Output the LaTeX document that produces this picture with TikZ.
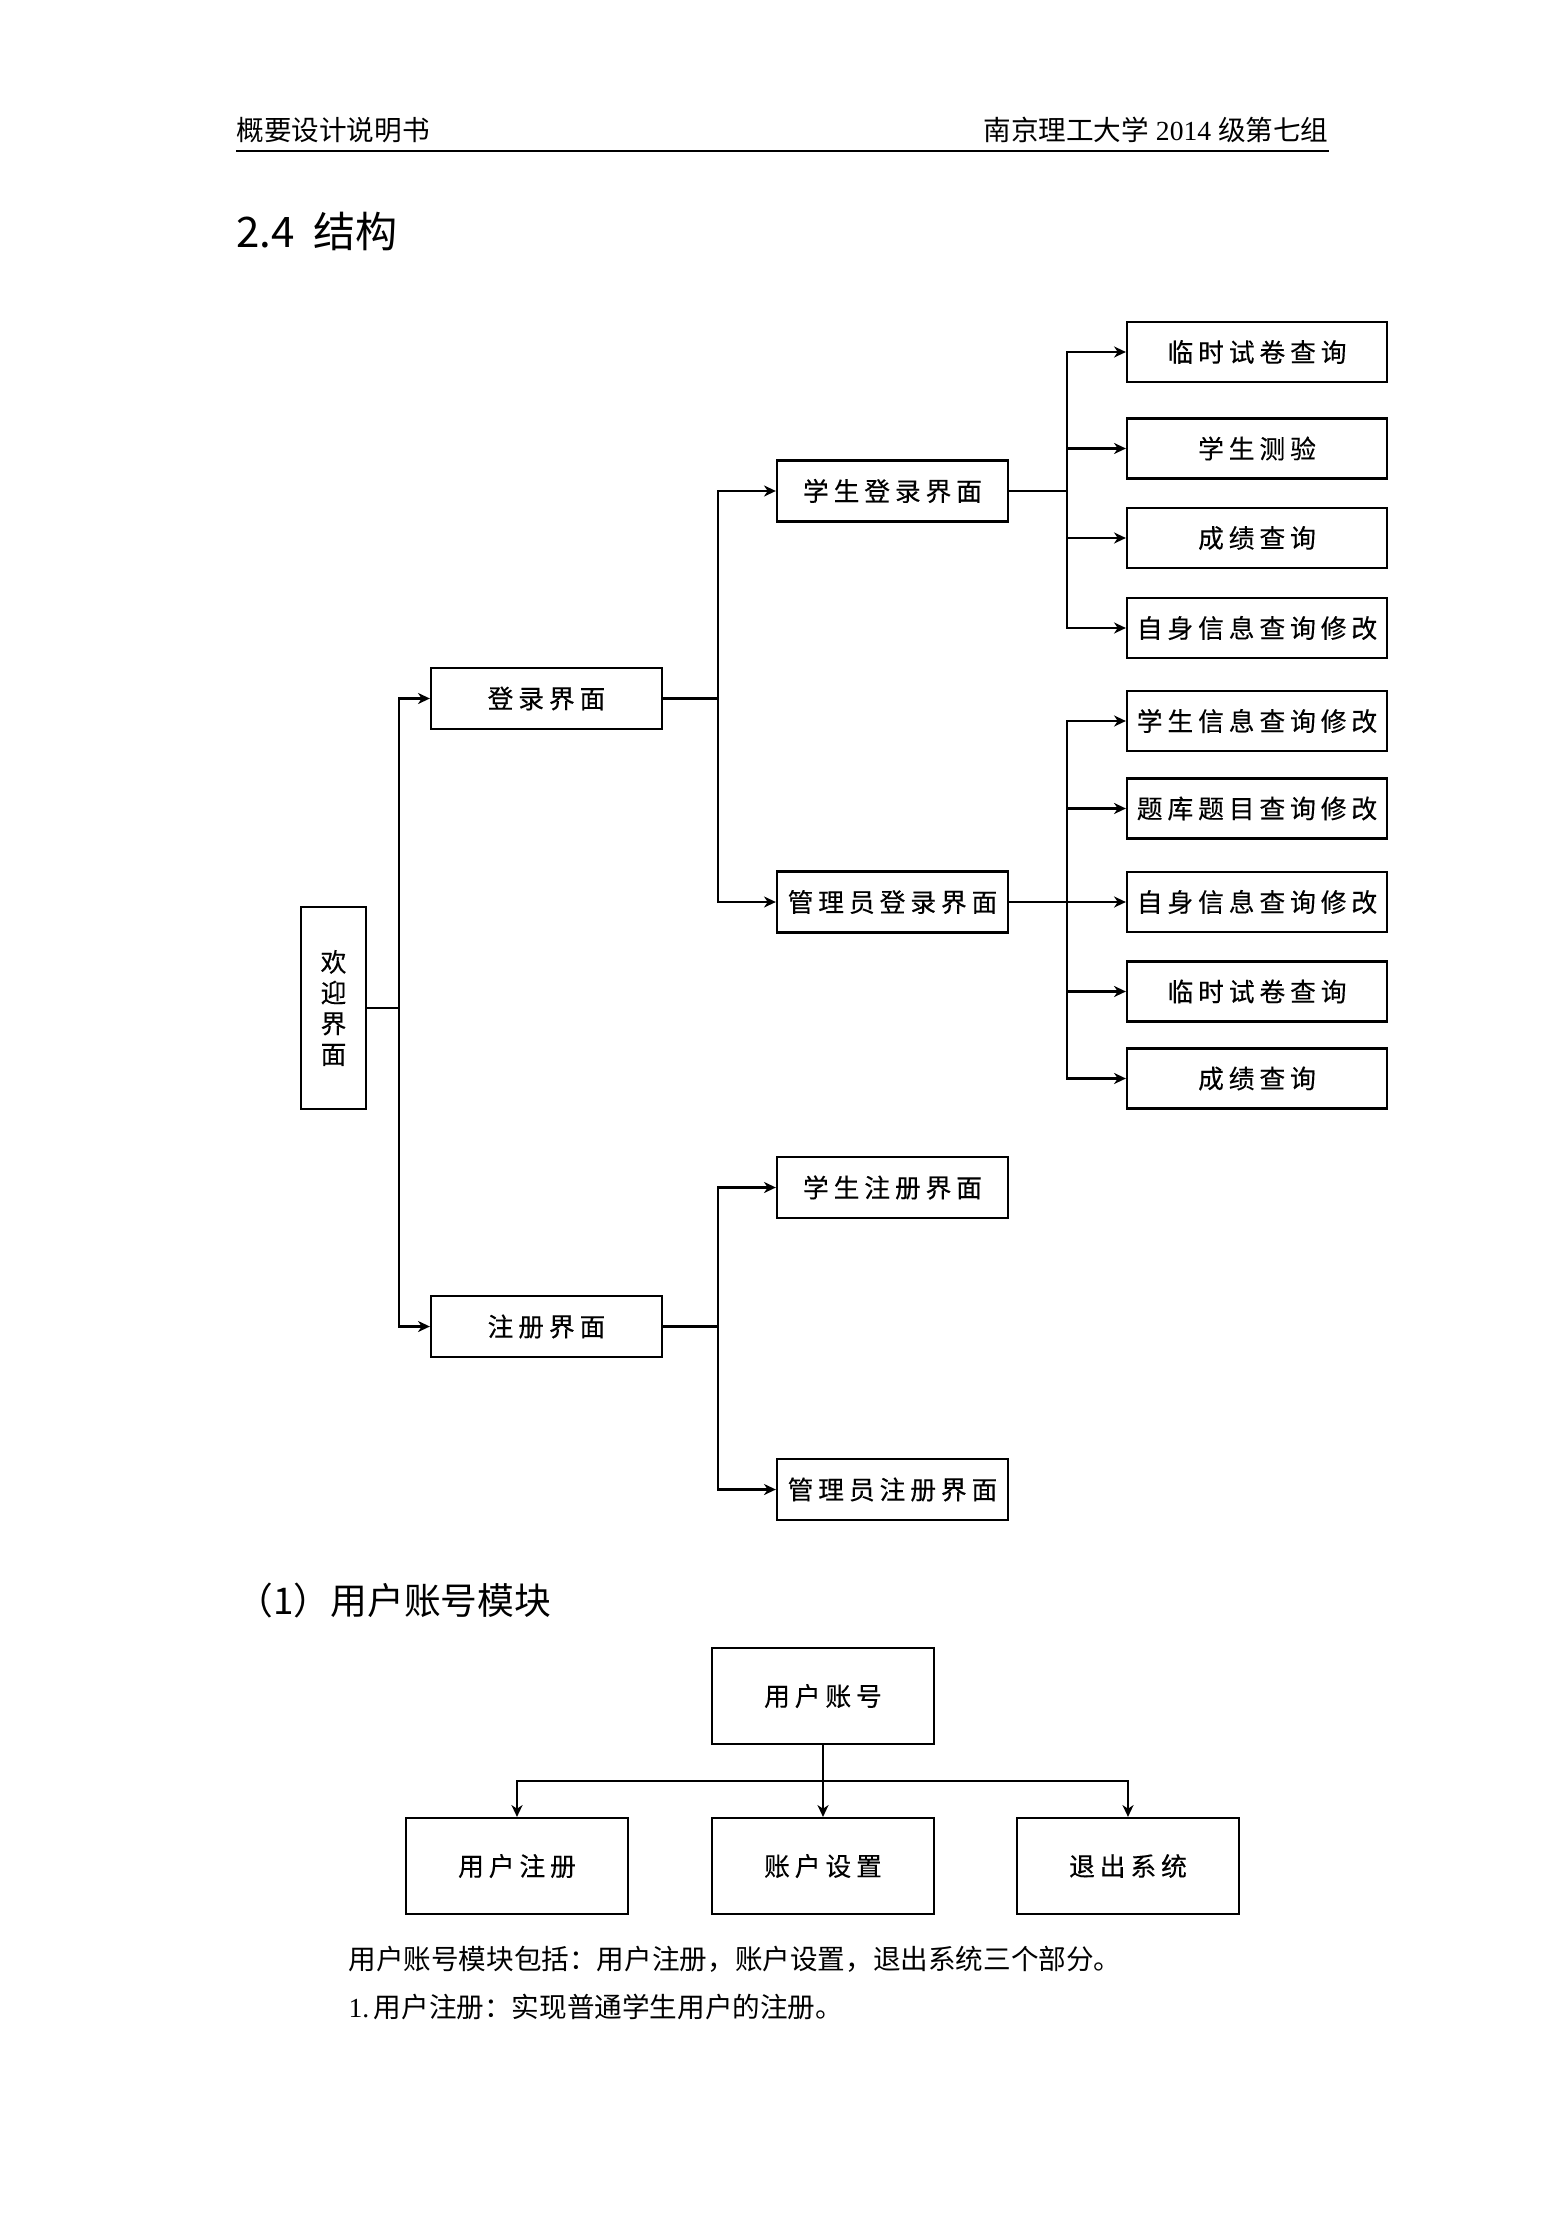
\documentclass[tikz,border=0pt]{standalone}
\usepackage{fontspec}
\setmainfont{Liberation Serif}
\newfontfamily\cjk{Noto Sans CJK SC}
\newfontfamily\boxcjk[LetterSpace=19,FakeBold=0.3]{Noto Sans CJK SC}
\usetikzlibrary{arrows.meta}
\tikzset{
  box/.style={draw,line width=.85pt,inner sep=0pt,font=\boxcjk\fontsize{9.8pt}{11.7pt}\selectfont},
  midbox/.style={box,minimum width=87.9pt,minimum height=23.2pt},
  leafbox/.style={box,minimum width=98.9pt,minimum height=22.8pt},
  modbox/.style={box,minimum width=84.4pt,minimum height=36.5pt},
  plain/.style={anchor=west,inner sep=0pt},
  link/.style={line width=.85pt},
  arr/.style={link,-{Stealth[length=4.5pt,width=4.2pt,inset=1.4pt]}},
}
\begin{document}
\begin{tikzpicture}[x=0.38037pt,y=-0.38037pt]
\useasboundingbox (0,0) rectangle (1565,2216);
% page head
\node[plain,font=\fontsize{10.5pt}{12pt}\selectfont] (hleft) at (236,130) {\cjk 概要设计说明书};
\node[plain,anchor=east,font=\fontsize{10.5pt}{12pt}\selectfont] (hright) at (1329,130) {{\cjk 南京理工大学} 2014 {\cjk 级第七组}};
\draw[line width=.75pt] (236,151) -- (1329,151);
\node[plain,font=\cjk\fontsize{16pt}{18pt}\selectfont] (title) at (236,232) {2.4\hspace{0.45em}结构};

% structure tree
\node[box,minimum width=24.7pt,minimum height=76.8pt,align=center] (welcome) at (333.5,1008) {欢\\迎\\界\\面};
\node[midbox] (login) at (546.5,698.5) {登录界面};
\node[midbox] (reg) at (546.5,1326.5) {注册界面};
\node[midbox] (stulogin) at (892.5,491) {学生登录界面};
\node[midbox] (admlogin) at (892.5,902) {管理员登录界面};
\node[midbox] (stureg) at (892.5,1187.5) {学生注册界面};
\node[midbox] (admreg) at (892.5,1489.5) {管理员注册界面};
\foreach \y/\t [count=\i] in {352/临时试卷查询,448.5/学生测验,538/成绩查询,628/自身信息查询修改}
    \node[leafbox] (s\i) at (1257,\y) {\t};
\foreach \y/\t [count=\i] in {721/学生信息查询修改,808.5/题库题目查询修改,902/自身信息查询修改,991.5/临时试卷查询,1078.5/成绩查询}
    \node[leafbox] (a\i) at (1257,\y) {\t};

\coordinate (j0) at (399,1008);
\coordinate (j1) at (718,698.5);
\coordinate (j2) at (718,1326.5);
\coordinate (j3) at (1067,491);
\coordinate (j4) at (1067,902);
\draw[link] (welcome) -- (j0);
\draw[link] (login) -- (j1);
\draw[link] (reg) -- (j2);
\draw[link] (stulogin) -- (j3);
\draw[link] (admlogin) -- (j4);
\foreach \n in {login,reg} \draw[arr] (j0) |- (\n);
\foreach \n in {stulogin,admlogin} \draw[arr] (j1) |- (\n);
\foreach \n in {stureg,admreg} \draw[arr] (j2) |- (\n);
\foreach \i in {1,...,4} \draw[arr] (j3) |- (s\i);
\foreach \i in {1,...,5} \draw[arr] (j4) |- (a\i);

% user account module
\node[plain,font=\cjk\fontsize{14pt}{16pt}\selectfont] (sub) at (236,1600) {（1）用户账号模块};
\node[modbox] (acct) at (823,1696) {用户账号};
\node[modbox] (m1) at (517,1866) {用户注册};
\node[modbox] (m2) at (823,1866) {账户设置};
\node[modbox] (m3) at (1128,1866) {退出系统};
\coordinate (bar) at (823,1781);
\draw[arr] (acct) -- (m2);
\draw[arr] (bar) -| (m1);
\draw[arr] (bar) -| (m3);

\node[plain,font=\fontsize{10.5pt}{12pt}\selectfont] (line1) at (348,1959) {\cjk 用户账号模块包括：用户注册，账户设置，退出系统三个部分。};
\node[plain,font=\fontsize{10.5pt}{12pt}\selectfont] (line2) at (348,2007) {1.\,{\cjk 用户注册：实现普通学生用户的注册。}};
\end{tikzpicture}
\end{document}
